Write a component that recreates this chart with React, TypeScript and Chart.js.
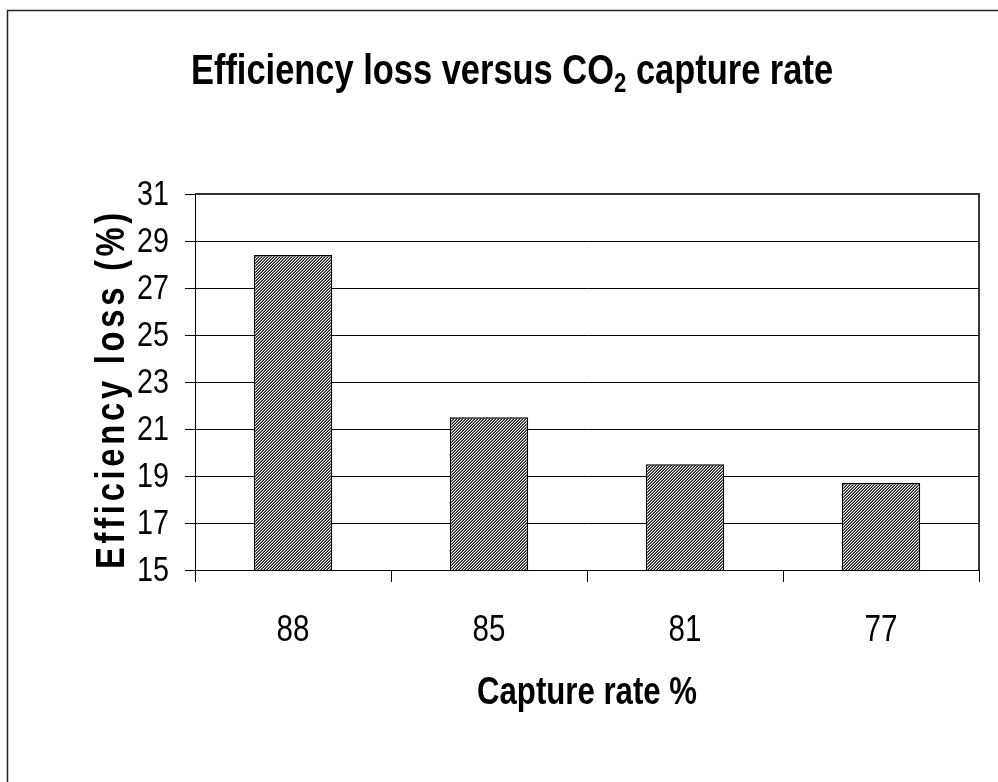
import React, { useEffect, useRef } from "react";
import { Chart, registerables } from "chart.js";

Chart.register(...registerables);

const categories = ["88", "85", "81", "77"];
const efficiencyLoss = [28.4, 21.5, 19.5, 18.7];
const yTicks = [15, 17, 19, 21, 23, 25, 27, 29, 31];
const titleParts = ["Efficiency loss versus CO", "2", " capture rate"];
const xTitle = "Capture rate %";
const yTitle = "Efficiency loss (%)";

const FAMILY = "'Liberation Sans', Arial, sans-serif";
const NARROW_SCALE = 0.82;

function makePattern(): CanvasPattern | string {
  const c = document.createElement("canvas");
  c.width = 3;
  c.height = 3;
  const ctx = c.getContext("2d");
  if (!ctx) return "#888";
  for (let y = 0; y < 3; y++) {
    for (let x = 0; x < 3; x++) {
      const k = (x + y) % 3;
      ctx.fillStyle = k === 2 ? "#1a1a1a" : k === 1 ? "#707070" : "#ffffff";
      ctx.fillRect(x, y, 1, 1);
    }
  }
  return ctx.createPattern(c, "repeat") || "#888";
}

function drawNarrow(
  ctx: CanvasRenderingContext2D,
  text: string,
  x: number,
  y: number,
  font: string,
  align: CanvasTextAlign,
  baseline: CanvasTextBaseline
) {
  ctx.save();
  ctx.translate(x, y);
  ctx.scale(NARROW_SCALE, 1);
  ctx.font = font;
  ctx.textAlign = align;
  ctx.textBaseline = baseline;
  ctx.fillStyle = "#000";
  ctx.fillText(text, 0, 0);
  ctx.restore();
}

const deco = {
  id: "deco",
  beforeDraw(chart: any) {
    const ctx = chart.ctx as CanvasRenderingContext2D;
    ctx.save();
    ctx.fillStyle = "#fff";
    ctx.fillRect(0, 0, chart.width, chart.height);
    ctx.strokeStyle = "#222";
    ctx.lineWidth = 1.5;
    ctx.strokeRect(7.5, 10.5, chart.width + 40, chart.height + 40);
    ctx.restore();
  },
  afterDraw(chart: any) {
    const ctx = chart.ctx as CanvasRenderingContext2D;
    const a = chart.chartArea;
    ctx.save();
    // plot frame (top & right)
    ctx.strokeStyle = "#333";
    ctx.lineWidth = 2;
    ctx.beginPath();
    ctx.moveTo(a.left, a.top);
    ctx.lineTo(a.right, a.top);
    ctx.lineTo(a.right, a.bottom);
    ctx.stroke();
    ctx.restore();

    // y tick labels
    const ys = chart.scales.y;
    for (const t of ys.ticks) {
      const py = ys.getPixelForValue(t.value);
      drawNarrow(ctx, String(t.value), a.left - 26, py + 1, `35px ${FAMILY}`, "right", "middle");
    }
    // x tick labels
    const xs = chart.scales.x;
    categories.forEach((c, i) => {
      const px = xs.getPixelForValue(i);
      drawNarrow(ctx, c, px, a.bottom + 71, `36px ${FAMILY}`, "center", "alphabetic");
    });

    // main title with subscript
    const mainFont = `bold 42px ${FAMILY}`;
    const subFont = `bold 27px ${FAMILY}`;
    ctx.save();
    ctx.font = mainFont;
    const w1 = ctx.measureText(titleParts[0]).width * NARROW_SCALE;
    const w3 = ctx.measureText(titleParts[2]).width * NARROW_SCALE;
    ctx.font = subFont;
    const w2 = ctx.measureText(titleParts[1]).width * NARROW_SCALE;
    ctx.restore();
    const total = w1 + w2 + w3;
    let x = 512 - total / 2;
    const base = 84;
    drawNarrow(ctx, titleParts[0], x, base, mainFont, "left", "alphabetic");
    x += w1;
    drawNarrow(ctx, titleParts[1], x, base + 8, subFont, "left", "alphabetic");
    x += w2;
    drawNarrow(ctx, titleParts[2], x, base, mainFont, "left", "alphabetic");

    // x axis title
    drawNarrow(ctx, xTitle, (a.left + a.right) / 2, 704, `bold 38px ${FAMILY}`, "center", "alphabetic");

    // y axis title (rotated, narrow, letter-spaced)
    ctx.save();
    ctx.translate(124, 389);
    ctx.rotate(-Math.PI / 2);
    ctx.scale(NARROW_SCALE, 1);
    ctx.font = `bold 40px ${FAMILY}`;
    (ctx as any).letterSpacing = "4.5px";
    ctx.textAlign = "center";
    ctx.textBaseline = "alphabetic";
    ctx.fillStyle = "#000";
    ctx.fillText(yTitle, 0, 0);
    ctx.restore();
  },
};

export default function App() {
  const ref = useRef<HTMLCanvasElement | null>(null);
  useEffect(() => {
    const canvas = ref.current;
    if (!canvas) return;
    const pattern = makePattern();
    const chart = new Chart(canvas, {
      type: "bar",
      data: {
        labels: categories,
        datasets: [
          {
            data: efficiencyLoss,
            backgroundColor: pattern as any,
            borderColor: "#000",
            borderWidth: 1.5,
            barPercentage: 0.4,
            categoryPercentage: 1,
          },
        ],
      },
      options: {
        responsive: false,
        animation: false,
        layout: { padding: { top: 194, right: 19, left: 0, bottom: 0 } },
        plugins: {
          legend: { display: false },
          title: { display: false },
          tooltip: { enabled: false },
        },
        scales: {
          x: {
            grid: { display: true, drawOnChartArea: false, color: "#000", tickLength: 12, offset: true },
            border: { color: "#000", width: 1 },
            ticks: { display: false },
            afterFit(s: any) {
              s.height = 212;
            },
          },
          y: {
            min: yTicks[0],
            max: yTicks[yTicks.length - 1],
            grid: { color: "#000", tickLength: 10 },
            border: { color: "#000", width: 1 },
            ticks: { display: false },
            afterBuildTicks(s: any) {
              s.ticks = yTicks.map((v) => ({ value: v }));
            },
            afterFit(s: any) {
              s.width = 195;
            },
          },
        },
      },
      plugins: [deco],
    });
    return () => chart.destroy();
  }, []);
  return (
    <div style={{ position: "absolute", left: 0, top: 0, width: 998, height: 782 }}>
      <canvas ref={ref} width={998} height={782} />
    </div>
  );
}
